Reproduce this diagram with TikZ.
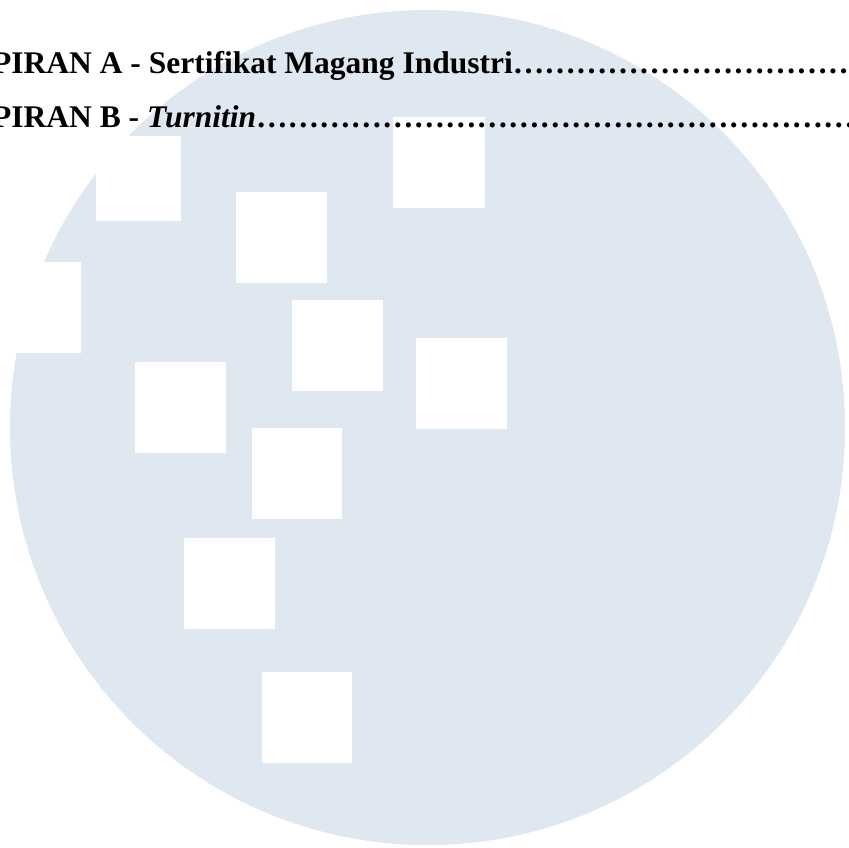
\documentclass[tikz,border=0pt]{standalone}
\usepackage{fontspec}
\setmainfont{Liberation Serif}
\definecolor{bubble}{RGB}{223,231,240}
\newcommand{\leaderdots}{……………………………………}
\begin{document}
\begin{tikzpicture}[x=1pt,y=-1pt,
  hole/.style={fill=white},
  toc/.style={anchor=base west, inner sep=0pt, text=black,
    font=\fontsize{31.5}{31.5}\selectfont\bfseries}]
\useasboundingbox (0,0) rectangle (849,847);
\clip (0,0) rectangle (849,847);
\fill[white] (0,0) rectangle (849,847);
% big pale circle
\fill[bubble] (427.5,427.5) circle[radius=417.5pt];
% white squares
\fill[hole] (96,136) rectangle (181,221);
\fill[hole] (236,192) rectangle (327,283);
\fill[hole] (393,117) rectangle (485,208);
\fill[hole] (-10,262) rectangle (81,353);
\fill[hole] (292,300) rectangle (383,391);
\fill[hole] (416,338) rectangle (507,429);
\fill[hole] (135,362) rectangle (226,453);
\fill[hole] (252,428) rectangle (342,519);
\fill[hole] (184,538) rectangle (275,629);
\fill[hole] (262,672) rectangle (352,763);
% table of contents lines
\node[toc] (lampa) at (-8,73.5) {PIRAN A - Sertifikat Magang Industri\leaderdots\leaderdots};
\node[toc] (lampb) at (-8,127.5) {PIRAN B - \textit{Turnitin}\leaderdots\leaderdots};
\end{tikzpicture}
\end{document}
